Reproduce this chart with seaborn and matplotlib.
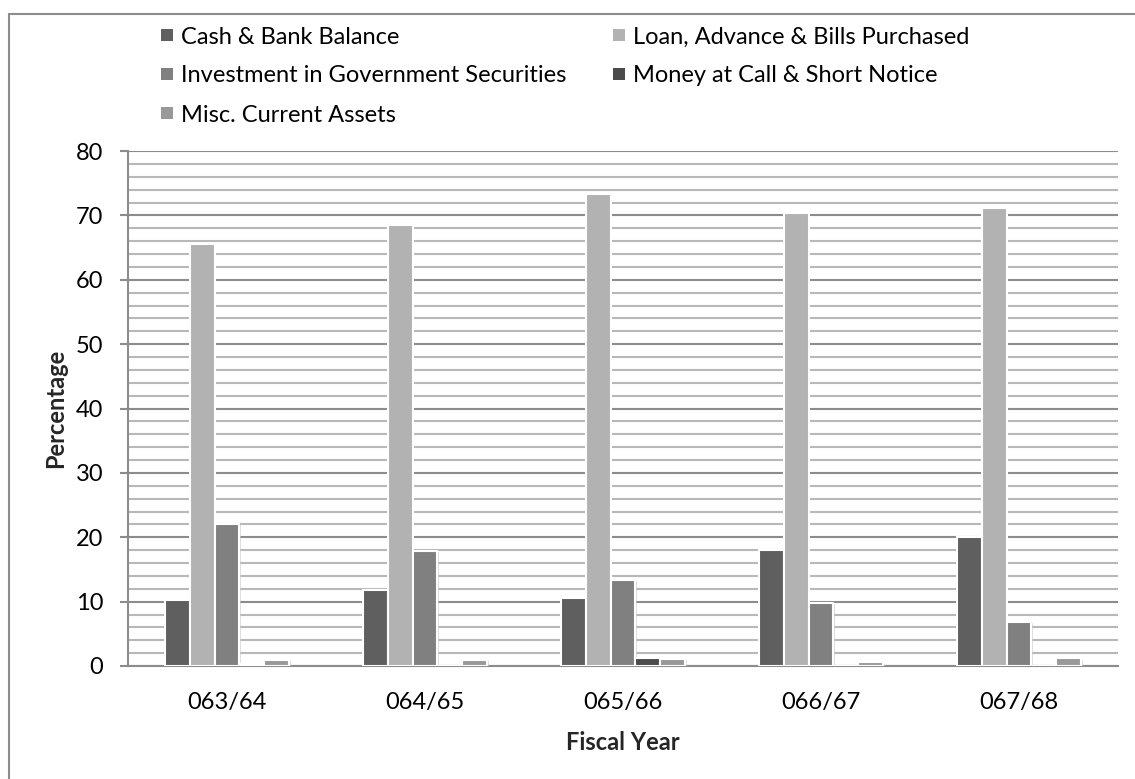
import matplotlib
matplotlib.use("Agg")
import matplotlib.pyplot as plt
import matplotlib.patheffects as pe
from matplotlib.lines import Line2D
from matplotlib.patches import Rectangle
from matplotlib.ticker import MultipleLocator
import seaborn as sns
import pandas as pd

years = ["063/64", "064/65", "065/66", "066/67", "067/68"]
series = [
    "Cash & Bank Balance",
    "Loan, Advance & Bills Purchased",
    "Investment in Government Securities",
    "Money at Call & Short Notice",
    "Misc. Current Assets",
]
cash = [10.3, 11.8, 10.5, 18.0, 20.0]
loan = [65.6, 68.5, 73.3, 70.3, 71.1]
investment = [22.1, 17.9, 13.4, 9.8, 6.9]
money_at_call = [0.3, 0.0, 1.2, 0.0, 0.0]
misc = [1.0, 1.0, 1.1, 0.6, 1.2]
colors = ["#5f5f5f", "#b2b2b2", "#808080", "#4b4b4b", "#999999"]

values = [cash, loan, investment, money_at_call, misc]
df = pd.DataFrame(
    [(y, s, v[i]) for s, v in zip(series, values) for i, y in enumerate(years)],
    columns=["Fiscal Year", "Series", "Percentage"],
)

sns.set_theme(style="white")
plt.rcParams["font.family"] = ["Lato", "DejaVu Sans"]
FS = 17

W, H = 1135, 779
fig = plt.figure(figsize=(W / 100, H / 100), dpi=100)
ax = fig.add_axes([128 / W, 1 - 666 / H, 990 / W, 515 / H])

sns.barplot(
    data=df, x="Fiscal Year", y="Percentage", hue="Series",
    hue_order=series, order=years, palette=colors,
    width=0.63, edgecolor="white", linewidth=1.5, ax=ax, zorder=3,
    legend=False,
)
for bar in ax.patches:
    bar.set_path_effects([
        pe.SimplePatchShadow(offset=(1, -1), shadow_rgbFace="#c8c8c8", alpha=0.6),
        pe.Normal(),
    ])

ax.set_ylim(0, 80)
ax.set_xlim(-0.5, len(years) - 0.5)
ax.yaxis.set_major_locator(MultipleLocator(10))
ax.yaxis.set_minor_locator(MultipleLocator(2))
ax.grid(which="major", axis="y", color="#8c8c8c", linewidth=1.5, zorder=0)
ax.grid(which="minor", axis="y", color="#b8b8b8", linewidth=1.5, zorder=0)
ax.set_axisbelow(True)

for side in ["top", "right"]:
    ax.spines[side].set_visible(False)
for side in ["left", "bottom"]:
    ax.spines[side].set_color("#8c8c8c")
    ax.spines[side].set_linewidth(1.5)

ax.tick_params(axis="y", which="major", left=True, length=5.8, width=1.5,
               color="#8c8c8c", labelsize=FS, pad=12, labelcolor="black")
ax.tick_params(axis="y", which="minor", left=False)
ax.tick_params(axis="x", bottom=False, labelsize=FS, pad=13, labelcolor="black")

ax.set_ylabel("Percentage", fontsize=FS, fontweight="bold")
ax.set_xlabel("Fiscal Year", fontsize=FS, fontweight="bold")
ax.yaxis.set_label_coords((67 - 128) / 990, 0.5)
ax.xaxis.set_label_coords(0.5, -(731 - 666) / 515)

# legend: two columns filled row by row, square swatch before each label
col_x = [161, 613]
row_y = [35, 74, 113]
sq = 12
for k, (name, c) in enumerate(zip(series, colors)):
    x0 = col_x[k % 2]
    yc = row_y[k // 2]
    fig.add_artist(Rectangle((x0 / W, 1 - (yc + sq / 2) / H), sq / W, sq / H,
                             transform=fig.transFigure, facecolor=c,
                             edgecolor="none"))
    fig.text((x0 + sq + 8) / W, 1 - yc / H, name, fontsize=FS,
             ha="left", va="center_baseline", color="black")

# outer chart border (left and top edges fall inside the canvas)
fig.add_artist(Line2D([9 / W, 9 / W], [0, 1 - 14 / H], transform=fig.transFigure,
                      color="#8c8c8c", linewidth=1.5))
fig.add_artist(Line2D([9 / W, 1], [1 - 14 / H, 1 - 14 / H], transform=fig.transFigure,
                      color="#8c8c8c", linewidth=1.5))

fig.savefig("out.png", dpi=100)
